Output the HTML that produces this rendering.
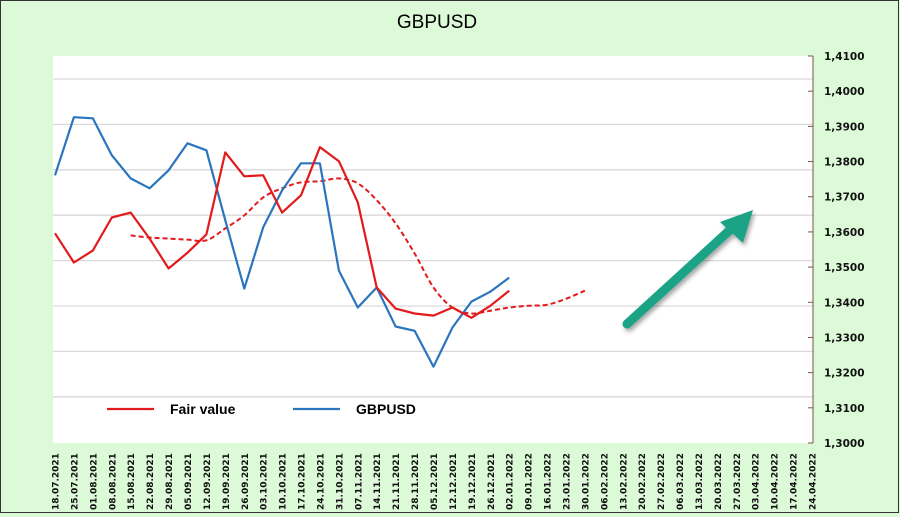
<!DOCTYPE html>
<html><head><meta charset="utf-8"><style>
html,body{margin:0;padding:0;background:#ddfad8;}
svg{display:block;font-family:"Liberation Sans",sans-serif;}
</style></head><body>
<svg id="chart" width="900" height="517">
<defs>
<filter id="sh" x="-20%" y="-20%" width="140%" height="140%"><feDropShadow dx="2" dy="3" stdDeviation="2" flood-color="#000" flood-opacity="0.35"/></filter>
</defs>
<rect x="0" y="0" width="900" height="517" fill="#ddfad8"/>
<rect x="53" y="56" width="760" height="387" fill="#ffffff"/>
<g id="grid"></g>
<line x1="813" y1="56" x2="813" y2="443" stroke="#7a5050" stroke-width="1"/>
<g id="yaxis"></g>
<g id="xaxis"></g>
<g id="series"></g>
<text x="437" y="28" text-anchor="middle" font-size="19" fill="#000">GBPUSD</text>
<g>
<line x1="107" y1="409" x2="154" y2="409" stroke="#e31a1c" stroke-width="2.2"/>
<text x="170" y="414" font-size="14" font-weight="bold">Fair value</text>
<line x1="293" y1="409" x2="340" y2="409" stroke="#2a75bd" stroke-width="2.2"/>
<text x="356" y="414" font-size="14" font-weight="bold">GBPUSD</text>
</g>
<g filter="url(#sh)">
<line x1="627" y1="324" x2="731" y2="229" stroke="#1ba385" stroke-width="9" stroke-linecap="round"/>
<polygon points="753,210 720,222 743,243" fill="#1ba385"/>
</g>
<rect x="0.5" y="0.5" width="898" height="512" fill="none" stroke="#333" stroke-width="1"/>
</svg>
<script>
const categories=["18.07.2021","25.07.2021","01.08.2021","08.08.2021","15.08.2021","22.08.2021","29.08.2021","05.09.2021","12.09.2021","19.09.2021","26.09.2021","03.10.2021","10.10.2021","17.10.2021","24.10.2021","31.10.2021","07.11.2021","14.11.2021","21.11.2021","28.11.2021","05.12.2021","12.12.2021","19.12.2021","26.12.2021","02.01.2022","09.01.2022","16.01.2022","23.01.2022","30.01.2022","06.02.2022","13.02.2022","20.02.2022","27.02.2022","06.03.2022","13.03.2022","20.03.2022","27.03.2022","03.04.2022","10.04.2022","17.04.2022","24.04.2022"];
const gbpusd=[1.3761,1.3926,1.3923,1.3818,1.3752,1.3724,1.3775,1.3852,1.3832,1.3633,1.3439,1.3613,1.3718,1.3795,1.3795,1.3490,1.3385,1.3442,1.3331,1.3319,1.3217,1.3328,1.3402,1.3430,1.3470];
const fairValue=[1.3596,1.3513,1.3547,1.3641,1.3655,1.3581,1.3496,1.3541,1.3593,1.3826,1.3758,1.3761,1.3655,1.3704,1.3841,1.3801,1.3684,1.3442,1.3382,1.3368,1.3362,1.3385,1.3356,1.3390,1.3433];
const trendStart=4;
const fairTrend=[1.3590,1.3584,1.3581,1.3578,1.3576,1.3610,1.3647,1.3698,1.3724,1.3741,1.3744,1.3752,1.3738,1.3690,1.3624,1.3539,1.3442,1.3385,1.3368,1.3376,1.3385,1.3390,1.3393,1.3410,1.3433];
const yTicks=["1,3000","1,3100","1,3200","1,3300","1,3400","1,3500","1,3600","1,3700","1,3800","1,3900","1,4000","1,4100"];
const yMin=1.30,yMax=1.41;
const NS="http://www.w3.org/2000/svg";
function X(i){return 55+i*(812-55)/(categories.length-1);}
function Y(v){return 443-(v-yMin)/(yMax-yMin)*387;}
function mk(tag,attrs,parent){const e=document.createElementNS(NS,tag);for(const k in attrs)e.setAttribute(k,attrs[k]);parent.appendChild(e);return e;}
const grid=document.getElementById('grid');
for(let k=0;k<8;k++){const gy=79+k*45.4;
 const l=mk('line',{x1:53,x2:813,y1:gy,y2:gy,stroke:'#d9d9d9','stroke-width':1.3},grid);
 
 }
const ya=document.getElementById('yaxis');
yTicks.forEach((t,k)=>{const v=yMin+k*0.01;const y=Y(v);
 const tk=mk('line',{x1:808,x2:813,y1:y,y2:y,stroke:'#7a5050'},ya);
 
 
 const tx=mk('text',{x:824,y:y+4,'font-size':10.5,'font-weight':'bold',fill:'#111','font-family':'DejaVu Sans, sans-serif'},ya);
 tx.textContent=t;
 
 });
const xa=document.getElementById('xaxis');
categories.forEach((c,i)=>{const x=X(i);
 const tx=mk('text',{x:0,y:0,transform:`translate(${x+3.5},510) rotate(-90)`,'font-size':9,'font-weight':'bold',fill:'#111','font-family':'DejaVu Sans, sans-serif'},xa);
 tx.textContent=c;
 
 });
const sg=document.getElementById('series');
function poly(arr,off){return arr.map((v,i)=>X(i+off).toFixed(1)+','+Y(v).toFixed(1)).join(' ');}
function smooth(arr,off){const p=arr.map((v,i)=>[X(i+off),Y(v)]);let d='M'+p[0][0]+','+p[0][1];
 for(let i=0;i<p.length-1;i++){const p0=p[i-1]||p[i],p1=p[i],p2=p[i+1],p3=p[i+2]||p2;
  d+=` C${p1[0]+(p2[0]-p0[0])/6},${p1[1]+(p2[1]-p0[1])/6} ${p2[0]-(p3[0]-p1[0])/6},${p2[1]-(p3[1]-p1[1])/6} ${p2[0]},${p2[1]}`;}
 return d;}
const tr=mk('path',{d:smooth(fairTrend,trendStart),fill:'none',stroke:'#e31a1c','stroke-width':2,'stroke-dasharray':'5,3'},sg);


const bl=mk('polyline',{points:poly(gbpusd,0),fill:'none',stroke:'#2a75bd','stroke-width':2.2,'stroke-linejoin':'round'},sg);


const rl=mk('polyline',{points:poly(fairValue,0),fill:'none',stroke:'#e31a1c','stroke-width':2.2,'stroke-linejoin':'round'},sg);


</script>
</body></html>
